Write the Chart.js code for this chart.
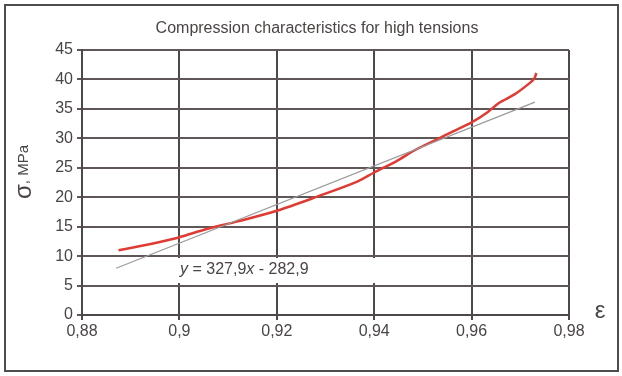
<!DOCTYPE html>
<html>
<head>
<meta charset="utf-8">
<script src="https://cdn.jsdelivr.net/npm/chart.js@4.4.1/dist/chart.umd.min.js"></script>
<style>
  html, body { margin: 0; padding: 0; background: #fff; }
  #wrap { width: 622px; height: 376px; position: relative; }
</style>
</head>
<body>
<div id="wrap"><canvas id="chart" width="622" height="376"></canvas></div>
<script>
// measured stress-strain curve
const strain = [0.8875, 0.8920, 0.8960, 0.9000, 0.9056, 0.9120, 0.9200, 0.9283, 0.9364, 0.9400,
                0.9445, 0.9486, 0.9526, 0.9560, 0.9600, 0.9632, 0.9656, 0.9689, 0.9721, 0.9729, 0.9733];
const stress = [11.0, 11.7, 12.4, 13.2, 14.6, 15.9, 17.7, 20.1, 22.6, 24.2,
                26.1, 28.1, 29.7, 31.1, 32.7, 34.4, 36.0, 37.5, 39.5, 40.2, 41.1];

// linear trend shown in the label
const trendSlope = 327.9;
const trendIntercept = -282.9;
const trendRange = [0.887, 0.973];

const xTicks = [0.88, 0.9, 0.92, 0.94, 0.96, 0.98];
const xTickLabels = ['0,88', '0,9', '0,92', '0,94', '0,96', '0,98'];
const yTickLabels = ['0', '5', '10', '15', '20', '25', '30', '35', '40', '45'];

const FONT = '"Liberation Sans", Arial, sans-serif';
const TEXT = '#4a4545';

const extras = {
  id: 'extras',
  beforeDatasetsDraw(chart) {
    // white box behind the trend equation
    const c = chart.ctx;
    c.save();
    c.fillStyle = '#fff';
    c.fillRect(176, 258, 206, 25);
    c.restore();
  },
  afterDraw(chart) {
    const c = chart.ctx;
    c.save();
    // outer frame
    c.strokeStyle = '#4d4d4d';
    c.lineWidth = 2;
    c.strokeRect(5, 5, 613, 366);

    c.fillStyle = TEXT;
    c.textBaseline = 'middle';
    c.textAlign = 'center';
    c.font = '16px ' + FONT;
    c.fillText('Compression characteristics for high tensions', 317, 29);

    // trend equation
    c.textAlign = 'left';
    const eq = [['italic 16px ' + FONT, 'y'], ['16px ' + FONT, ' = 327,9'], ['italic 16px ' + FONT, 'x'], ['16px ' + FONT, ' - 282,9']];
    let x = 180;
    eq.forEach(([f, t]) => { c.font = f; c.fillText(t, x, 270); x += c.measureText(t).width; });

    // epsilon
    c.textAlign = 'center';
    c.font = '24px ' + FONT;
    c.fillText('ε', 600, 311);

    // y axis title
    c.translate(24, 172);
    c.rotate(-Math.PI / 2);
    c.textAlign = 'left';
    c.font = '24px ' + FONT;
    const s = 'σ';
    const part = ', MPa';
    const w1 = c.measureText(s).width;
    c.font = '15px ' + FONT;
    const w2 = c.measureText(part).width;
    let sx = -(w1 + w2) / 2;
    c.font = '24px ' + FONT;
    c.fillText(s, sx, 0);
    c.font = '15px ' + FONT;
    c.fillText(part, sx + w1, 0);
    c.restore();
  }
};

new Chart(document.getElementById('chart').getContext('2d'), {
  type: 'scatter',
  data: {
    datasets: [
      {
        label: 'trend',
        data: trendRange.map(e => ({ x: e, y: trendSlope * e + trendIntercept })),
        showLine: true,
        borderColor: '#9a9a9a',
        borderWidth: 1.2,
        pointRadius: 0
      },
      {
        label: 'σ(ε)',
        data: strain.map((e, i) => ({ x: e, y: stress[i] })),
        showLine: true,
        borderColor: '#e03a33',
        borderWidth: 2.5,
        pointRadius: 0,
        tension: 0.3
      }
    ]
  },
  options: {
    responsive: false,
    animation: false,
    events: [],
    layout: { padding: { left: 0, top: 50, right: 53, bottom: 0 } },
    plugins: { legend: { display: false }, tooltip: { enabled: false } },
    scales: {
      x: {
        type: 'linear',
        min: 0.88, max: 0.98,
        afterBuildTicks: s => { s.ticks = xTicks.map(v => ({ value: v })); },
        afterFit: s => { s.height = 61; },
        ticks: {
          callback: (v, i) => xTickLabels[i],
          color: TEXT, font: { family: FONT, size: 16 }, padding: 2, maxRotation: 0
        },
        grid: { color: '#4f4848', lineWidth: 2, tickLength: 5 },
        border: { color: '#4f4848', width: 2 }
      },
      y: {
        min: 0, max: 45,
        ticks: {
          stepSize: 5,
          callback: (v, i) => yTickLabels[i],
          color: TEXT, font: { family: FONT, size: 16 }, padding: 4
        },
        afterFit: s => { s.width = 82; },
        grid: { color: '#5f5757', lineWidth: 2, tickLength: 5 },
        border: { color: '#4f4848', width: 2 }
      }
    }
  },
  plugins: [extras]
});
</script>
</body>
</html>
